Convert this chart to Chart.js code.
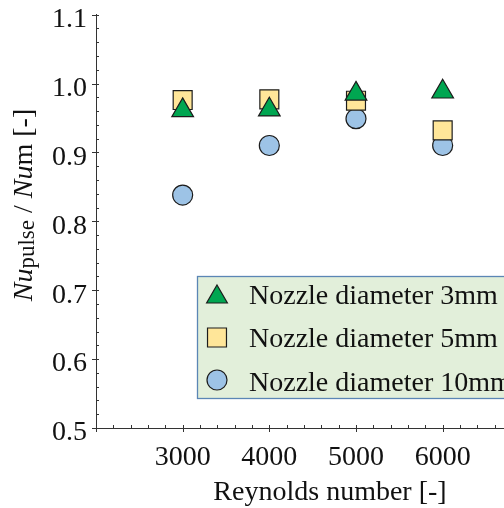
<!DOCTYPE html>
<html>
<head>
<meta charset="utf-8">
<script src="https://cdn.jsdelivr.net/npm/chart.js@4.4.1/dist/chart.umd.min.js"></script>
<style>
  html, body { margin: 0; padding: 0; background: #fff; overflow: hidden; }
  #wrap { width: 600px; height: 508px; position: relative; }
</style>
</head>
<body>
<div id="wrap"><canvas id="nuChart"></canvas></div>
<script>
    // --- DATA ---
    const reynolds = [3000, 4000, 5000, 6000];
    const nozzle3mm = [0.961, 0.962, 0.985, 0.988];
    const nozzle5mm = [0.976, 0.977, 0.975, 0.932];
    const nozzle10mm = [0.838, 0.910, 0.949, 0.910];
    const seriesLabels = ['Nozzle diameter 3mm', 'Nozzle diameter 5mm', 'Nozzle diameter 10mm'];
    const xTickLabels = [3000, 4000, 5000, 6000];
    const yTickLabels = [0.5, 0.6, 0.7, 0.8, 0.9, 1.0, 1.1];

    const SERIF = '"Liberation Serif", "Times New Roman", serif';
    const INK = '#111';
    const EDGE = '#1c1c1c';

    function toPoints(ys) {
        return reynolds.map((x, i) => ({ x: x, y: ys[i] }));
    }

    // --- MARKER HELPERS (for legend) ---
    function drawMarker(ctx, style, x, y, r, fill) {
        ctx.save();
        ctx.fillStyle = fill;
        ctx.strokeStyle = EDGE;
        ctx.lineWidth = 1.2;
        ctx.beginPath();
        if (style === 'triangle') {
            let a = 0;
            ctx.moveTo(x + Math.sin(a) * r, y - Math.cos(a) * r);
            a += Math.PI * 2 / 3;
            ctx.lineTo(x + Math.sin(a) * r, y - Math.cos(a) * r);
            a += Math.PI * 2 / 3;
            ctx.lineTo(x + Math.sin(a) * r, y - Math.cos(a) * r);
            ctx.closePath();
        } else if (style === 'rect') {
            const s = Math.SQRT1_2 * r;
            ctx.rect(x - s, y - s, 2 * s, 2 * s);
        } else {
            ctx.arc(x, y, r, 0, Math.PI * 2);
        }
        ctx.fill();
        ctx.stroke();
        ctx.restore();
    }

    // tick marks: major outward+inward, minor inward only
    const tickMarks = {
        id: 'tickMarks',
        afterDraw(chart) {
            const ctx = chart.ctx;
            const xs = chart.scales.x, ys = chart.scales.y;
            const area = chart.chartArea;
            ctx.save();
            ctx.strokeStyle = '#333';
            ctx.lineWidth = 1;
            ctx.beginPath();
            xs.ticks.forEach(t => {
                const px = Math.round(xs.getPixelForValue(t.value)) + 0.5;
                const major = Math.round(t.value) % 1000 === 0;
                ctx.moveTo(px, area.bottom + (major ? 4 : 0));
                ctx.lineTo(px, area.bottom - 3);
            });
            ys.ticks.forEach(t => {
                const py = Math.round(ys.getPixelForValue(t.value)) + 0.5;
                const major = Math.round(t.value * 100) % 10 === 0;
                ctx.moveTo(area.left - (major ? 4 : 0), py);
                ctx.lineTo(area.left + 3, py);
            });
            ctx.stroke();
            ctx.restore();
        }
    };

    // axis titles with italic Nu and subscripts
    const axisTitles = {
        id: 'axisTitles',
        afterDraw(chart) {
            const ctx = chart.ctx;
            ctx.save();
            ctx.fillStyle = INK;
            ctx.textBaseline = 'alphabetic';

            // x title
            ctx.font = '28px ' + SERIF;
            ctx.textAlign = 'center';
            ctx.fillText('Reynolds number [-]', 330, 500);

            // y title (rotated)
            const parts = [
                { t: 'Nu', f: 'italic 28px ' + SERIF, dy: 0 },
                { t: 'pulse', f: '23px ' + SERIF, dy: 1.5 },
                { t: ' / ', f: '28px ' + SERIF, dy: 0 },
                { t: 'Nu', f: 'italic 28px ' + SERIF, dy: 0 },
                { t: 'm', f: '28px ' + SERIF, dy: 0 },
                { t: ' [-]', f: '28px ' + SERIF, dy: 0 }
            ];
            let total = 0;
            parts.forEach(p => { ctx.font = p.f; p.w = ctx.measureText(p.t).width; total += p.w; });
            ctx.translate(32, 205);
            ctx.rotate(-Math.PI / 2);
            ctx.textAlign = 'left';
            let cx = -total / 2;
            parts.forEach(p => {
                ctx.font = p.f;
                ctx.fillText(p.t, cx, p.dy);
                cx += p.w;
            });
            ctx.restore();
        }
    };

    // boxed legend inside the plot
    const boxLegend = {
        id: 'boxLegend',
        afterDraw(chart) {
            const ctx = chart.ctx;
            const left = 197, top = 276, right = 560, bottom = 398;
            ctx.save();
            ctx.fillStyle = '#e2efda';
            ctx.fillRect(left, top, right - left, bottom - top);
            ctx.strokeStyle = '#5b86b5';
            ctx.lineWidth = 1.3;
            ctx.strokeRect(left + 0.5, top + 0.5, right - left, bottom - top);

            const rowBase = [304, 347.3, 390.6];
            const markerY = [297, 337.5, 380];
            chart.data.datasets.forEach((ds, i) => {
                const r = ds.pointStyle === 'triangle' ? 12 : (ds.pointStyle === 'rect' ? 13.4 : 10);
                drawMarker(ctx, ds.pointStyle, 217, markerY[i], r, ds.backgroundColor);
                ctx.fillStyle = INK;
                ctx.font = '28px ' + SERIF;
                ctx.textAlign = 'left';
                ctx.textBaseline = 'alphabetic';
                ctx.fillText(ds.label, 249, rowBase[i]);
            });
            ctx.restore();
        }
    };

    // --- CHART ---
    const ctx = document.getElementById('nuChart').getContext('2d');
    new Chart(ctx, {
        type: 'scatter',
        data: {
            datasets: [
                {
                    label: seriesLabels[0],
                    data: toPoints(nozzle3mm),
                    pointStyle: 'triangle',
                    pointRadius: 12.5,
                    backgroundColor: '#00a651',
                    borderColor: EDGE,
                    borderWidth: 1.2
                },
                {
                    label: seriesLabels[1],
                    data: toPoints(nozzle5mm),
                    pointStyle: 'rect',
                    pointRadius: 13.4,
                    backgroundColor: '#ffe699',
                    borderColor: EDGE,
                    borderWidth: 1.2
                },
                {
                    label: seriesLabels[2],
                    data: toPoints(nozzle10mm),
                    pointStyle: 'circle',
                    pointRadius: 10,
                    backgroundColor: '#9dc3e6',
                    borderColor: EDGE,
                    borderWidth: 1.2
                }
            ]
        },
        options: {
            responsive: true,
            maintainAspectRatio: false,
            animation: false,
            layout: { padding: { top: 14, right: 36, bottom: 0, left: 0 } },
            plugins: {
                legend: { display: false },
                tooltip: { enabled: false }
            },
            scales: {
                x: {
                    type: 'linear',
                    min: 2000,
                    max: 7400,
                    grid: { display: false, drawTicks: false },
                    border: { display: true, color: '#333', width: 1 },
                    ticks: {
                        stepSize: 200,
                        autoSkip: false,
                        maxRotation: 0,
                        padding: 13,
                        color: INK,
                        font: { family: SERIF, size: 28 },
                        callback: v => xTickLabels.includes(Math.round(v)) ? String(Math.round(v)) : ''
                    },
                    afterFit: s => { s.height = 80; s.paddingLeft = 0; s.paddingRight = 0; }
                },
                y: {
                    min: 0.5,
                    max: 1.1,
                    grid: { display: false, drawTicks: false },
                    border: { display: true, color: '#333', width: 1 },
                    ticks: {
                        stepSize: 0.02,
                        autoSkip: false,
                        padding: 9,
                        labelOffset: 5,
                        color: INK,
                        font: { family: SERIF, size: 28 },
                        callback: v => {
                            const t = yTickLabels.find(k => Math.abs(k - v) < 1e-6);
                            return t === undefined ? '' : t.toFixed(1);
                        }
                    },
                    afterFit: s => { s.width = 96; s.paddingTop = 0; s.paddingBottom = 0; }
                }
            }
        },
        plugins: [tickMarks, axisTitles, boxLegend]
    });
</script>
</body>
</html>
